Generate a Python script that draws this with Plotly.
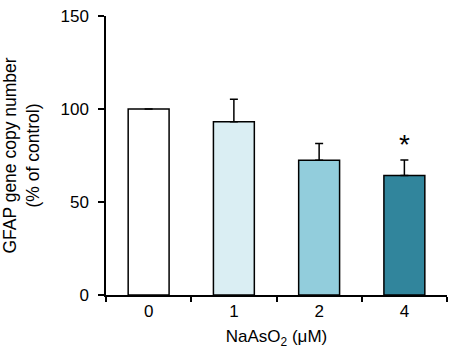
import plotly.graph_objects as go

categories = ["0", "1", "2", "4"]
values = [100, 93.2, 72.5, 64.3]
errors = [0, 12, 9, 8.3]
colors = ["#ffffff", "#daeef3", "#92cddc", "#31859c"]
y_ticks = [0, 50, 100, 150]
sig_labels = ["", "", "", "*"]

fig = go.Figure()
fig.add_trace(go.Bar(
    x=categories, y=values,
    marker=dict(color=colors, line=dict(color="black", width=1.5)),
    error_y=dict(type="data", symmetric=False, array=errors,
                 arrayminus=[0] * len(errors), color="black",
                 thickness=1.5, width=4),
    width=0.48,
))

for i, (v, e, s) in enumerate(zip(values, errors, sig_labels)):
    if s:
        fig.add_annotation(x=i, y=v + e, xref="x", yref="y", text=s,
                           showarrow=False, yanchor="bottom", yshift=-2,
                           font=dict(size=28, color="black",
                                     family="Liberation Sans, Arial"))

fig.update_layout(
    width=454, height=358,
    margin=dict(l=106, r=7, t=14, b=63),
    plot_bgcolor="white", paper_bgcolor="white",
    showlegend=False,
    font=dict(family="Liberation Sans, Arial", size=17, color="black"),
)
fig.update_xaxes(
    type="category", range=[-0.5, 3.5],
    showline=True, linecolor="black", linewidth=1.5,
    ticks="outside", tickson="boundaries", ticklen=5, tickwidth=1.5,
    tickcolor="black", showgrid=False,
    title=dict(text="NaAsO<sub>2</sub> (μM)", standoff=10,
               font=dict(size=17)),
)
fig.update_yaxes(
    range=[0, 150], tickvals=y_ticks, showline=True, linecolor="black",
    linewidth=1.5, ticks="outside", ticklen=6, tickwidth=1.5,
    tickcolor="black", showgrid=False, zeroline=False,
    ticklabelstandoff=6, ticklabeloverflow="allow",
    title=dict(text="GFAP gene copy number<br>(% of control)",
               standoff=18, font=dict(size=17.5)),
)

fig.write_html(
    "out.html",
    config={"displayModeBar": False},
    post_script="document.body.style.margin='0';"
                "document.body.style.overflow='hidden';",
)
